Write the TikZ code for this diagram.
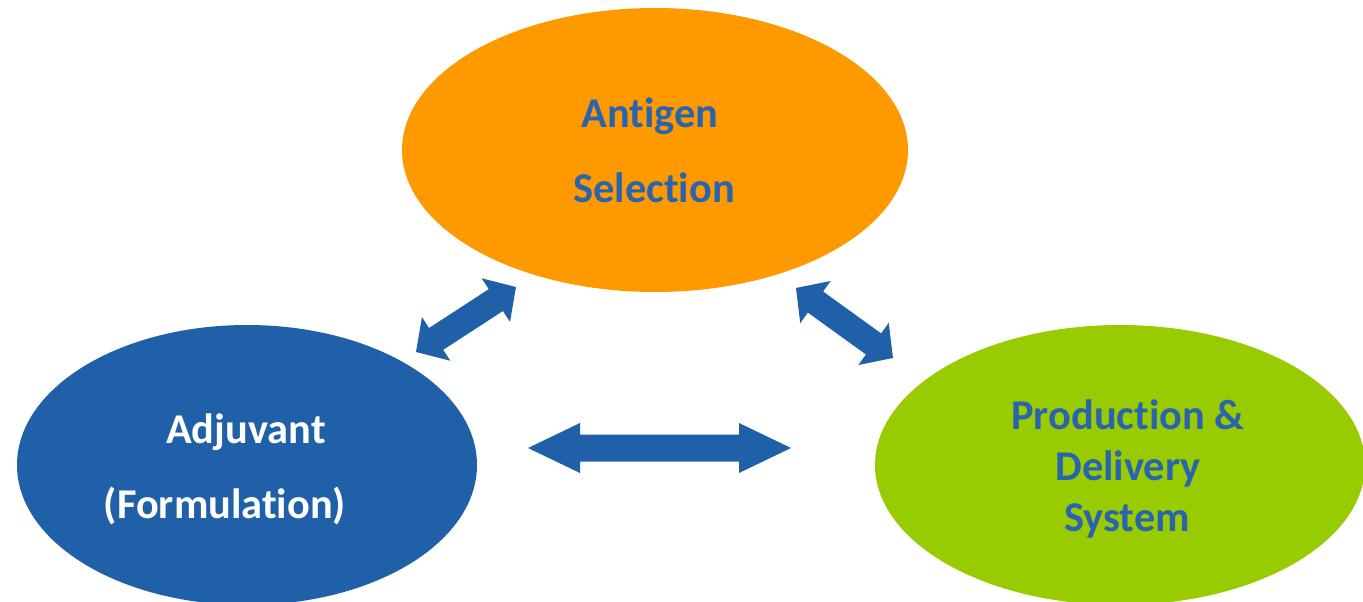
\documentclass[tikz,border=0pt]{standalone}
\usepackage{fontspec}
\setmainfont{Carlito}[RawFeature={-liga;-clig}]
\usetikzlibrary{shapes.geometric}
\definecolor{antigenorange}{RGB}{255,153,0}
\definecolor{prodgreen}{RGB}{153,204,0}
\definecolor{adjblue}{RGB}{31,96,168}
\definecolor{labelblue}{RGB}{42,100,174}
\tikzset{
  blob/.style={ellipse, draw=none, inner sep=0pt},
  lbl/.style={anchor=base, inner sep=0pt, font=\bfseries\fontsize{31.8pt}{38pt}\selectfont},
}
% double block arrow from (#1,#2) to (#3,#4); #5 half shaft width,
% #6 half head width, #7 head length (all in picture units)
\newcommand\dblarrow[7]{%
  \pgfmathsetmacro\arrang{atan2(-(#4-#2),#3-#1)}%
  \pgfmathsetmacro\arrlen{veclen(#3-#1,#4-#2)}%
  \begin{scope}[shift={(#1,#2)}, rotate=\arrang]
    \fill[adjblue] (0,0) -- (#7,#6) -- (#7,#5) -- (\arrlen-#7,#5) -- (\arrlen-#7,#6)
      -- (\arrlen,0) -- (\arrlen-#7,-#6) -- (\arrlen-#7,-#5) -- (#7,-#5) -- (#7,-#6) -- cycle;
  \end{scope}}
\begin{document}
\begin{tikzpicture}[x=0.75pt, y=-0.75pt]
  \clip (0,0) rectangle (1363,602);
  \fill[white] (0,0) rectangle (1363,602);

  % the three components
  \node[blob, fill=antigenorange, minimum width=379.5pt, minimum height=213pt] (antigen) at (655,150) {};
  \node[blob, fill=adjblue, minimum width=345pt, minimum height=210pt] (adjuvant) at (247,465) {};
  \node[blob, fill=prodgreen, minimum width=367.5pt, minimum height=210pt] (production) at (1120,465) {};

  % labels
  \node[lbl, text=labelblue] (antigenA) at (650,128) {Antigen};
  \node[lbl, text=labelblue] (antigenB) at (654,203) {Selection};
  \node[lbl, text=white] (adjA) at (246,443) {Adjuvant};
  \node[lbl, text=white] (adjB) at (225,518) {(Formulation)};
  \node[lbl, text=labelblue] (prodA) at (1128,429) {Production \&};
  \node[lbl, text=labelblue] (prodB) at (1128,480) {Delivery};
  \node[lbl, text=labelblue] (prodC) at (1127,531) {System};

  % two-way links between the components
  \dblarrow{416}{352}{516}{287}{13}{26}{24}
  \dblarrow{796}{288}{893}{358}{13}{26}{24}
  \dblarrow{528}{448}{791}{448}{13.5}{25}{52}
\end{tikzpicture}
\end{document}
